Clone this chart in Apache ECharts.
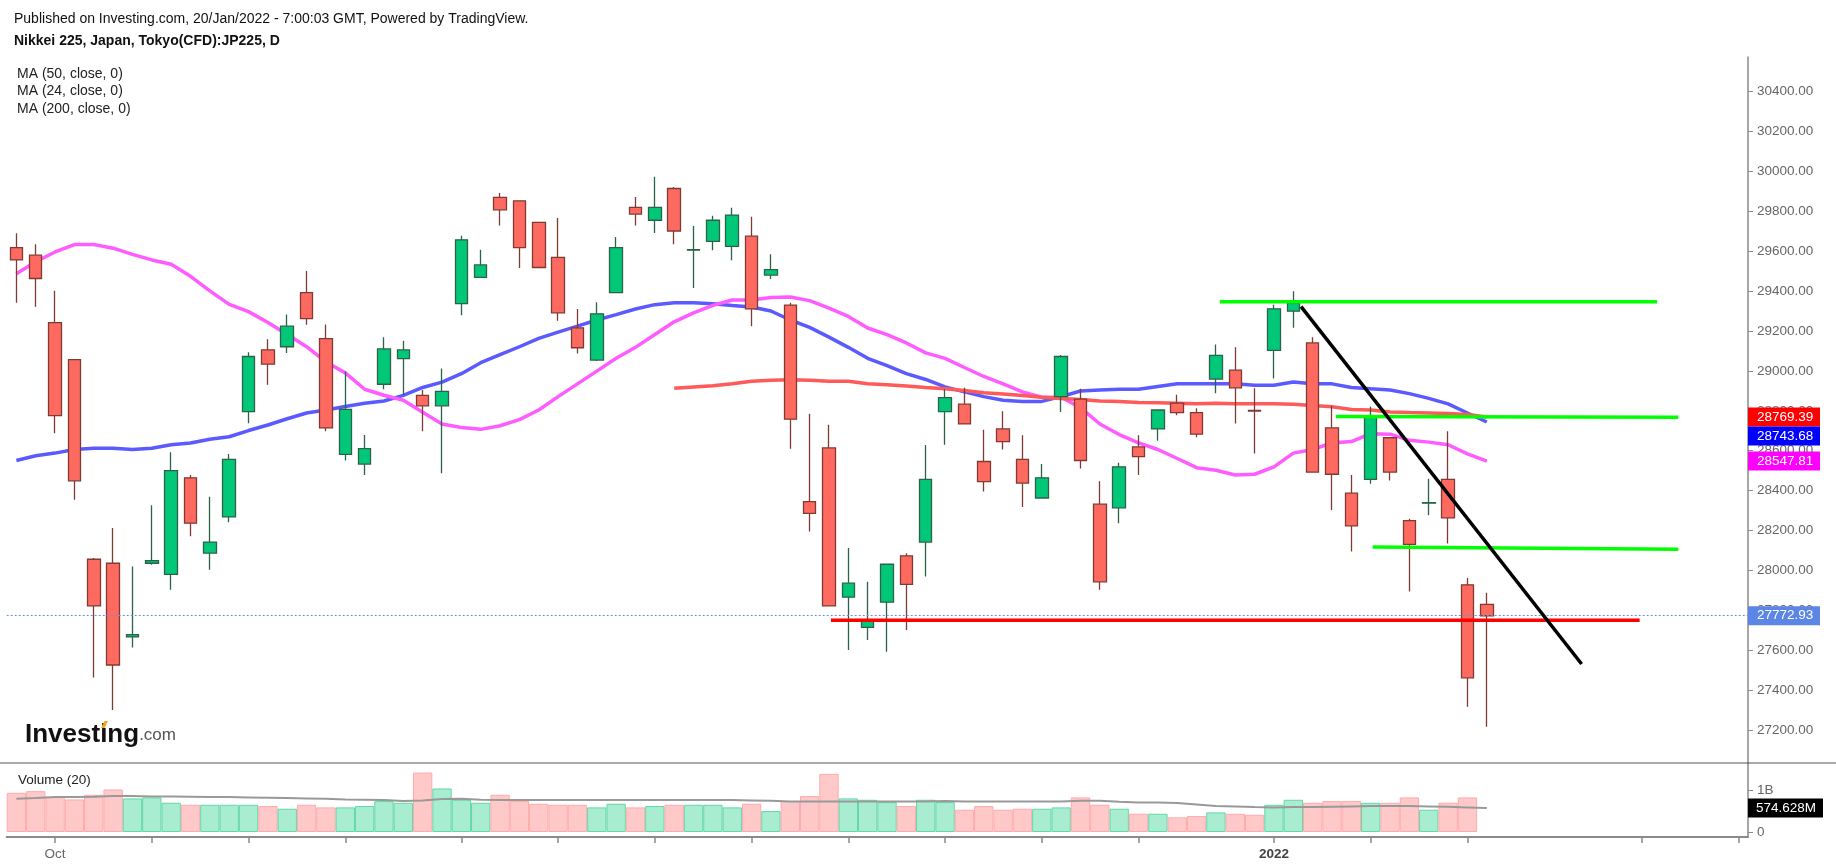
<!DOCTYPE html>
<html><head><meta charset="utf-8">
<script src="https://cdn.jsdelivr.net/npm/echarts@6/dist/echarts.min.js"></script>
<style>html,body{margin:0;padding:0;background:#fff;}#c{width:1836px;height:866px;}</style>
</head><body><div id="c"></div>
<script>
const dates = [
 '2021-09-29','2021-09-30',
 '2021-10-01','2021-10-04','2021-10-05','2021-10-06','2021-10-07','2021-10-08','2021-10-11','2021-10-12','2021-10-13','2021-10-14','2021-10-15',
 '2021-10-18','2021-10-19','2021-10-20','2021-10-21','2021-10-22','2021-10-25','2021-10-26','2021-10-27','2021-10-28','2021-10-29',
 '2021-11-01','2021-11-02','2021-11-04','2021-11-05','2021-11-08','2021-11-09','2021-11-10','2021-11-11','2021-11-12',
 '2021-11-15','2021-11-16','2021-11-17','2021-11-18','2021-11-19','2021-11-22','2021-11-24','2021-11-25','2021-11-26','2021-11-29','2021-11-30',
 '2021-12-01','2021-12-02','2021-12-03','2021-12-06','2021-12-07','2021-12-08','2021-12-09','2021-12-10','2021-12-13','2021-12-14','2021-12-15',
 '2021-12-16','2021-12-17','2021-12-20','2021-12-21','2021-12-22','2021-12-23','2021-12-24','2021-12-27','2021-12-28','2021-12-29','2021-12-30',
 '2022-01-04','2022-01-05','2022-01-06','2022-01-07','2022-01-11','2022-01-12','2022-01-13','2022-01-14','2022-01-17','2022-01-18','2022-01-19','2022-01-20',
 '2022-01-21','2022-01-24','2022-01-25','2022-01-26','2022-01-27','2022-01-28','2022-01-31','2022-02-01','2022-02-02','2022-02-03','2022-02-04','2022-02-07','2022-02-08'
];
const opens  = [29618,29580,29242,29056,28056,28036,27667,28036,27980,28464,28087,28268,28796,29105,29121,29392,29162,28582,28533,28933,29061,28877,28825,29337,29469,29870,29852,29744,29569,29216,29054,29392,29819,29755,29914,29605,29649,29624,29675,29480,29330,28345,28614,27866,27715,27841,28073,28142,28796,28833,28546,28709,28557,28363,28871,28858,28332,28314,28619,28709,28838,28791,28959,29004,28802,29103,29299,29140,28714,28387,28456,28665,28250,28337,28456,27928,27830];
const closes = [29556,29463,28776,28449,27822,27526,27678,28049,28500,28237,28142,28557,29072,29034,29224,29262,28714,28807,28610,29110,29105,28825,28897,29657,29531,29807,29618,29518,29291,29116,29286,29618,29786,29819,29701,29608,29755,29781,29311,29507,28758,28286,27822,27936,27751,28031,27930,28456,28866,28734,28445,28646,28438,28464,29072,28551,27943,28519,28570,28804,28791,28683,29078,28915,28799,29311,29341,28493,28482,28223,28771,28493,28131,28340,28263,27462,27772.93];
const lows   = [29341,29322,28688,28354,27464,27300,27614,28029,27903,28171,28003,28241,28738,28931,29090,29231,28698,28551,28478,28908,28880,28698,28487,29279,29469,29728,29516,29516,29251,29087,29050,29390,29728,29691,29635,29416,29604,29554,29224,29461,28610,28195,27820,27601,27651,27592,27702,27970,28630,28732,28396,28606,28318,28362,28794,28511,27903,28237,28478,28650,28778,28668,28888,28736,28586,28962,29216,28491,28303,28095,28434,28451,27894,28277,28135,27317,27217];
const highs  = [29690,29635,29401,29060,28062,28213,28020,28327,28592,28478,28369,28584,29094,29158,29282,29501,29233,28997,28679,29169,29151,28904,29012,29677,29607,29892,29855,29748,29766,29310,29344,29671,29872,29973,29922,29726,29777,29818,29772,29584,29342,28785,28730,28113,27943,28034,28086,28628,28908,28915,28705,28798,28677,28533,29079,28911,28447,28540,28677,28807,28880,28813,29132,29118,28913,29332,29399,29169,28824,28478,28822,28668,28259,28460,28698,27962,27888];
const ma50  = [28551,28575,28588,28606,28612,28612,28606,28612,28630,28639,28657,28670,28701,28729,28760,28789,28804,28822,28838,28849,28877,28917,28944,28986,29041,29081,29121,29163,29194,29224,29255,29282,29310,29332,29341,29341,29337,29328,29320,29300,29255,29218,29169,29118,29063,29026,28986,28957,28920,28895,28871,28853,28847,28847,28871,28899,28904,28908,28908,28922,28935,28935,28935,28935,28928,28928,28944,28935,28935,28917,28910,28904,28886,28862,28835,28789,28743.68];
const ma24  = [29487,29547,29596,29633,29633,29615,29584,29556,29534,29474,29401,29333,29297,29242,29182,29121,29045,28990,28908,28878,28853,28793,28734,28716,28707,28725,28756,28804,28871,28935,28999,29063,29118,29182,29246,29291,29328,29355,29355,29368,29370,29352,29315,29273,29215,29182,29140,29090,29063,29017,28972,28935,28895,28868,28868,28816,28734,28681,28639,28606,28561,28515,28502,28478,28482,28519,28588,28606,28639,28646,28685,28683,28652,28643,28630,28584,28547.81];
const ma200 = [null,null,null,null,null,null,null,null,null,null,null,null,null,null,null,null,null,null,null,null,null,null,null,null,null,null,null,null,null,null,null,null,null,null,28913,28919,28925,28935,28948,28953,28955,28953,28948,28948,28935,28930,28924,28917,28911,28902,28891,28884,28877,28868,28862,28857,28849,28847,28842,28840,28838,28835,28838,28835,28835,28835,28833,28826,28820,28807,28804,28794,28791,28789,28787,28782,28769.39];
const volumes = [0.940,0.980,0.837,0.781,0.892,1.020,0.805,0.829,0.701,0.653,0.653,0.653,0.653,0.622,0.558,0.653,0.590,0.590,0.622,0.741,0.701,1.426,1.044,0.773,0.701,0.892,0.741,0.677,0.653,0.653,0.590,0.677,0.590,0.622,0.653,0.653,0.653,0.590,0.677,0.502,0.741,0.861,1.394,0.805,0.773,0.717,0.622,0.773,0.717,0.534,0.622,0.534,0.558,0.558,0.590,0.829,0.653,0.558,0.438,0.438,0.351,0.382,0.470,0.438,0.414,0.653,0.773,0.701,0.741,0.741,0.701,0.701,0.829,0.534,0.701,0.829,null];
const volMA = [0.797,0.813,0.837,0.837,0.845,0.861,0.861,0.853,0.853,0.845,0.837,0.837,0.829,0.821,0.813,0.805,0.797,0.781,0.773,0.765,0.741,0.757,0.789,0.797,0.773,0.765,0.765,0.765,0.765,0.765,0.765,0.765,0.765,0.765,0.765,0.765,0.765,0.765,0.757,0.749,0.733,0.733,0.733,0.733,0.733,0.733,0.733,0.733,0.741,0.733,0.733,0.733,0.733,0.733,0.733,0.749,0.749,0.725,0.709,0.709,0.693,0.661,0.622,0.614,0.598,0.590,0.598,0.598,0.606,0.614,0.622,0.622,0.622,0.614,0.606,0.590,0.574628];
const priceTicks = [27200,27400,27600,27800,28000,28200,28400,28600,28800,29000,29200,29400,29600,29800,30000,30200,30400];
const volTicks = [0,1];
const xTickIdx = [2,7,12,17,23,28,33,38,43,48,53,58,65,70,75,84,89];
const xLabelIdx = [2,65];
const xLabelText = ['Oct','2022'];
// drawings: [x index, price]
const lineTopGreen = [[62.2,29347],[84.8,29347]];
const lineMidGreen = [[68.2,28772],[85.9,28768]];
const lineLowGreen = [[70.1,28117],[85.9,28106]];
const lineRed      = [[42.1,27750],[83.9,27750]];
const lineTrend    = [[66.4,29322],[80.9,27531]];

const FONT = '"Liberation Sans", Arial, sans-serif';
const chart = echarts.init(document.getElementById('c'));
const candleData = opens.map((o,i)=>[o, closes[i], lows[i], highs[i]]);
const volData = volumes.map((v,i)=>{
  if (v==null) return null;
  const up = closes[i] >= opens[i];
  return {value:v, itemStyle:{color: up?'#a8ecd1':'#ffc9c9', borderColor: up?'#62d9a6':'#ffaaaa', borderWidth:1}};
});
function drawLine(data,color,width){
  return {type:'line', xAxisIndex:2, yAxisIndex:0, data:data, symbol:'none', silent:true, z:6,
    lineStyle:{color:color, width:width}};
}
const GL = 6.7, GR = 88;
const option = {
  animation:false,
  backgroundColor:'#ffffff',
  textStyle:{fontFamily:FONT},
  grid:[{left:GL,right:GR,top:57,height:706},{left:GL,right:GR,top:763,height:74}],
  xAxis:[
    {type:'category', gridIndex:0, data:dates, show:false},
    {type:'category', gridIndex:1, data:dates,
      axisLine:{show:true, onZero:false, lineStyle:{color:'#8a8a8a', width:2}},
      axisTick:{show:true, alignWithLabel:true, length:6, interval:(i)=>xTickIdx.includes(i), lineStyle:{color:'#8a8a8a', width:1.5}},
      axisLabel:{show:true, interval:(i)=>xLabelIdx.includes(i), margin:10, color:'#666', fontSize:13.5, fontFamily:FONT,
        formatter:(v,i)=>{const k=xLabelIdx.indexOf(i); if(k<0) return ''; return k===1?'{b|'+xLabelText[k]+'}':xLabelText[k];},
        rich:{b:{fontWeight:'bold', color:'#444', fontSize:13.5, fontFamily:FONT}}},
      splitLine:{show:false}},
    {type:'value', gridIndex:0, min:-0.5, max:89.5, show:false, position:'top'}
  ],
  yAxis:[
    {type:'value', gridIndex:0, position:'right', min:27035, max:30573,
      splitLine:{show:false},
      axisLine:{show:true, onZero:false, lineStyle:{color:'#8a8a8a', width:1.5}},
      axisTick:{show:true, length:5, customValues:priceTicks, lineStyle:{color:'#8a8a8a'}},
      axisLabel:{show:true, customValues:priceTicks, margin:9, color:'#666', fontSize:13.5, fontFamily:FONT, formatter:(v)=>Number(v).toFixed(2)}},
    {type:'value', gridIndex:1, position:'right', min:-0.12, max:1.655,
      splitLine:{show:false},
      axisLine:{show:true, onZero:false, lineStyle:{color:'#8a8a8a', width:1.5}},
      axisTick:{show:true, length:5, customValues:volTicks, lineStyle:{color:'#8a8a8a'}},
      axisLabel:{show:true, customValues:volTicks, margin:9, color:'#666', fontSize:13.5, fontFamily:FONT, formatter:(v)=>v>=1?'1B':'0'}}
  ],
  series:[
    {type:'line', xAxisIndex:0, yAxisIndex:0, data:ma50, symbol:'none', z:2, lineStyle:{color:'#5a5aff', width:3.5}},
    {type:'line', xAxisIndex:0, yAxisIndex:0, data:ma24, symbol:'none', z:2, lineStyle:{color:'#ff5cff', width:3.5}},
    {type:'line', xAxisIndex:0, yAxisIndex:0, data:ma200, symbol:'none', z:2, lineStyle:{color:'#ff5a5a', width:3.5}},
    {type:'candlestick', xAxisIndex:0, yAxisIndex:0, data:candleData, barWidth:13, z:4,
      itemStyle:{color:'#00c878', color0:'#ff6a60', borderColor:'#2c6248', borderColor0:'#7f3a34', borderWidth:1.3},
      markLine:{silent:true, symbol:'none', label:{show:false},
        lineStyle:{color:'#6d8fe3', type:[2,2], width:1.2}, data:[{yAxis:closes[closes.length-1]}]}},
    {type:'bar', xAxisIndex:1, yAxisIndex:1, data:volData, barCategoryGap:'0%', z:2},
    {type:'line', xAxisIndex:1, yAxisIndex:1, data:volMA, symbol:'none', z:3, lineStyle:{color:'#999', width:2}},
    drawLine(lineRed,'#ff0000',3.5),
    drawLine(lineTopGreen,'#00ff00',3.5),
    drawLine(lineMidGreen,'#00ff00',3.5),
    drawLine(lineLowGreen,'#00ff00',3.5),
    drawLine(lineTrend,'#000000',3.5)
  ]
};
chart.setOption(option);

// right-axis value tags, placed through the axis scales
const axisX = chart.convertToPixel({xAxisIndex:2}, 89.5);
const tags = [
  {v:ma200[ma200.length-1], bg:'#ff0000'},
  {v:ma50[ma50.length-1], bg:'#0000ff'},
  {v:ma24[ma24.length-1], bg:'#ff00ff'},
  {v:closes[closes.length-1], bg:'#5b86e5'}
].map(t=>({...t, y:chart.convertToPixel({yAxisIndex:0}, t.v)})).sort((a,b)=>a.y-b.y);
const H = 19;
for (let k=1;k<tags.length;k++){ if (tags[k].y - tags[k-1].y < H) tags[k].y = tags[k-1].y + H; }
const g = [];
tags.forEach(t=>{
  g.push({type:'rect', z:100, shape:{x:axisX, y:t.y-H/2, width:72, height:H}, style:{fill:t.bg}});
  g.push({type:'text', z:101, x:axisX+9, y:t.y, style:{text:t.v.toFixed(2), fill:'#fff', font:'13.5px '+FONT, verticalAlign:'middle'}});
});
const vLast = volMA[volMA.length-1];
const vy = chart.convertToPixel({yAxisIndex:1}, vLast);
g.push({type:'rect', z:100, shape:{x:axisX, y:vy-H/2, width:75, height:H}, style:{fill:'#000'}});
g.push({type:'text', z:101, x:axisX+8, y:vy, style:{text:(vLast*1000).toFixed(3)+'M', fill:'#fff', font:'13.5px '+FONT, verticalAlign:'middle'}});
const sepY = chart.convertToPixel({yAxisIndex:1}, 1.655);
g.push({type:'line', z:50, shape:{x1:0, y1:sepY, x2:1836, y2:sepY}, style:{stroke:'#555', lineWidth:1.2}});
// header texts
g.push({type:'text', left:14, top:12.5, style:{text:'Published on Investing.com, 20/Jan/2022 - 7:00:03 GMT, Powered by TradingView.', fill:'#111', font:'14px '+FONT}});
g.push({type:'text', left:14, top:34.5, style:{text:'Nikkei 225, Japan, Tokyo(CFD):JP225, D', fill:'#111', font:'bold 14px '+FONT}});
g.push({type:'text', left:17, top:67, style:{text:'MA (50, close, 0)', fill:'#222', font:'14px '+FONT}});
g.push({type:'text', left:17, top:84.5, style:{text:'MA (24, close, 0)', fill:'#222', font:'14px '+FONT}});
g.push({type:'text', left:17, top:102, style:{text:'MA (200, close, 0)', fill:'#222', font:'14px '+FONT}});
g.push({type:'text', left:18, top:773, style:{text:'Volume (20)', fill:'#222', font:'13.5px '+FONT}});
g.push({type:'text', left:25, top:722, z:60, style:{text:'{a|Investing}{b|.com}', rich:{a:{font:'bold 26px '+FONT, fill:'#111'}, b:{font:'17px '+FONT, fill:'#555'}}}});
g.push({type:'polygon', z:61, shape:{points:[[101,728],[104.5,721],[108,721],[104.5,728]]}, style:{fill:'#f5a623'}});
chart.setOption({graphic:g});
</script>
</body></html>
